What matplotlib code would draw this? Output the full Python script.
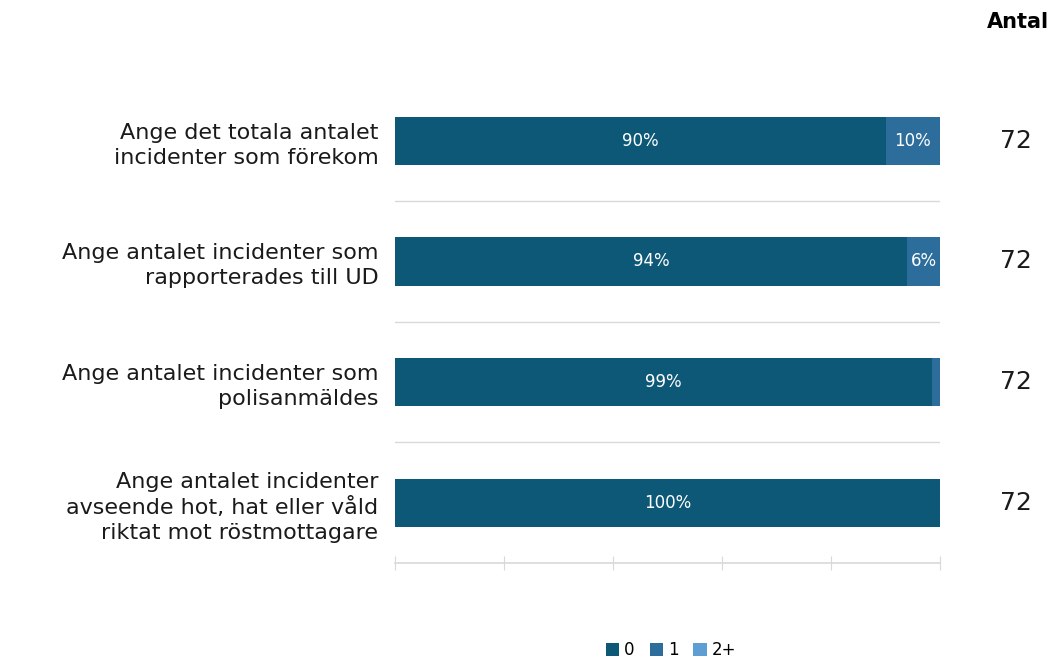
import matplotlib.pyplot as plt
from matplotlib.patches import Patch

# data
questions = [
    "Ange det totala antalet\nincidenter som förekom",
    "Ange antalet incidenter som\nrapporterades till UD",
    "Ange antalet incidenter som\npolisanmäldes",
    "Ange antalet incidenter\navseende hot, hat eller våld\nriktat mot röstmottagare",
]
share_0 = [90, 94, 98.6, 100]
share_1 = [10, 6, 1.4, 0]
share_2plus = [0, 0, 0, 0]
antal = [72, 72, 72, 72]
series_names = ["0", "1", "2+"]
colors = ["#0E5877", "#2C6D9B", "#5E9ED3"]

plt.rcParams['font.family'] = ['DejaVu Sans']

fig = plt.figure(figsize=(10.54, 6.58), dpi=100)
ax = fig.add_axes([395 / 1054, 1 - 563 / 658, 545 / 1054, 482.5 / 658])

ypos = list(range(len(questions)))
left = [0] * len(questions)
for vals, color in zip([share_0, share_1, share_2plus], colors):
    ax.barh(ypos, vals, left=left, height=0.4, color=color, edgecolor="none")
    for y, v, l in zip(ypos, vals, left):
        if v >= 3:
            ax.text(l + v / 2, y, f"{v:.0f}%", ha="center", va="center",
                    color="white", fontsize=12)
    left = [a + b for a, b in zip(left, vals)]

ax.set_xlim(0, 100)
ax.set_ylim(len(questions) - 0.5, -0.5)

# separators between rows
for y in [0.5, 1.5, 2.5]:
    ax.axhline(y, color="#d9d9d9", linewidth=1)

for s in ["top", "right", "left"]:
    ax.spines[s].set_visible(False)
ax.spines["bottom"].set_color("#d9d9d9")
ax.spines["bottom"].set_linewidth(1.2)
ax.set_xticks([0, 20, 40, 60, 80, 100])
ax.tick_params(axis="x", direction="inout", length=10, color="#d9d9d9",
               labelbottom=False)
ax.set_yticks(ypos)
ax.set_yticklabels(questions, fontsize=16, linespacing=1.3)
ax.tick_params(axis="y", length=0, pad=12, labelcolor="#1a1a1a")

# antal column
for y, n in zip(ypos, antal):
    ax.text(1.14, y, str(n), transform=ax.get_yaxis_transform(),
            ha="center", va="center", fontsize=18, color="#1a1a1a")
fig.text(1018 / 1054, 1 - 22 / 658, "Antal", ha="center", va="center",
         fontsize=15, fontweight="bold", color="black")

handles = [Patch(facecolor=c, label=n) for c, n in zip(colors, series_names)]
fig.legend(handles=handles, loc="center", bbox_to_anchor=(671 / 1054, 1 - 650 / 658),
           ncol=3, frameon=False, fontsize=12, handlelength=0.8, handleheight=0.8,
           handletextpad=0.3, columnspacing=0.9)

fig.savefig("out.png", dpi=100)
